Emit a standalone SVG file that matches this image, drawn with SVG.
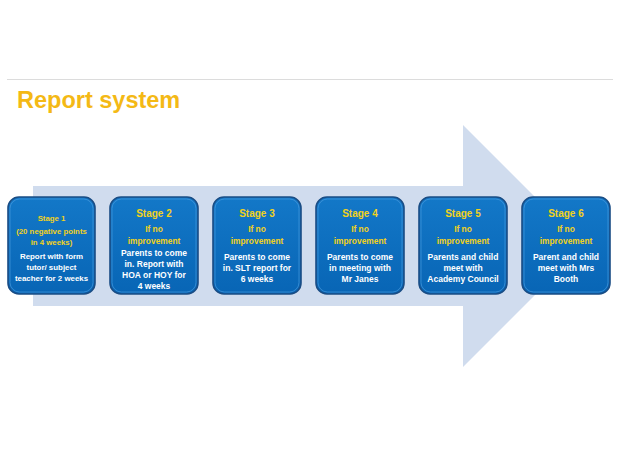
<svg xmlns="http://www.w3.org/2000/svg" width="620" height="465" viewBox="0 0 620 465">
<defs>
<linearGradient id="bg" x1="0" y1="0" x2="0" y2="1">
<stop offset="0" stop-color="#1378c8"/>
<stop offset="1" stop-color="#0865b5"/>
</linearGradient>
<style>
.box{fill:url(#bg);stroke:#1a4d85;stroke-width:1.6}
.hl{fill:none;stroke:#4d9ee0;stroke-width:0.8;opacity:0.8}
text{font-family:"Liberation Sans",Arial,sans-serif;font-weight:bold;text-anchor:middle}
.st{fill:#f2d21c;font-size:10px}
.st1{fill:#f2d21c;font-size:7.8px}
.y{fill:#f2d21c;font-size:8.4px}
.w{fill:#ffffff;font-size:8.5px}
.w1{fill:#ffffff;font-size:7.9px}
</style>
</defs>
<rect width="620" height="465" fill="#ffffff"/>
<line x1="7" y1="79.5" x2="613" y2="79.5" stroke="#dcdcdc" stroke-width="1"/>
<text x="17" y="108" style="text-anchor:start;font-size:23.5px;fill:#f4b915">Report system</text>
<g id="connectors">
<polygon points="33,186 463,186 463,125 584,246 463,367 463,306 33,306" fill="#d0dcee"/>
</g>
<g id="stage1">
<rect class="box" x="8" y="197" width="87" height="97" rx="11"/>
<rect class="hl" x="10" y="199" width="83" height="93" rx="9.5"/>
<text class="st1" x="51.5" y="221">Stage 1</text>
<text class="st1" x="51.5" y="233.5">(20 negative points</text>
<text class="st1" x="51.5" y="245">in 4 weeks)</text>
<text class="w1" x="51.5" y="259">Report with form</text>
<text class="w1" x="51.5" y="270">tutor/ subject</text>
<text class="w1" x="51.5" y="281">teacher for 2 weeks</text>
</g>
<g id="stage2">
<rect class="box" x="110" y="197" width="88" height="97" rx="11"/>
<rect class="hl" x="112" y="199" width="84" height="93" rx="9.5"/>
<text class="st" x="154" y="217">Stage 2</text>
<text class="y" x="154" y="232">If no</text>
<text class="y" x="154" y="244">improvement</text>
<text class="w" x="154" y="256">Parents to come</text>
<text class="w" x="154" y="267">in. Report with</text>
<text class="w" x="154" y="278">HOA or HOY for</text>
<text class="w" x="154" y="289">4 weeks</text>
</g>
<g id="stage3">
<rect class="box" x="213" y="197" width="88" height="97" rx="11"/>
<rect class="hl" x="215" y="199" width="84" height="93" rx="9.5"/>
<text class="st" x="257" y="217">Stage 3</text>
<text class="y" x="257" y="232">If no</text>
<text class="y" x="257" y="244">improvement</text>
<text class="w" x="257" y="260">Parents to come</text>
<text class="w" x="257" y="271">in. SLT report for</text>
<text class="w" x="257" y="282">6 weeks</text>
</g>
<g id="stage4">
<rect class="box" x="316" y="197" width="88" height="97" rx="11"/>
<rect class="hl" x="318" y="199" width="84" height="93" rx="9.5"/>
<text class="st" x="360" y="217">Stage 4</text>
<text class="y" x="360" y="232">If no</text>
<text class="y" x="360" y="244">improvement</text>
<text class="w" x="360" y="260">Parents to come</text>
<text class="w" x="360" y="271">in meeting with</text>
<text class="w" x="360" y="282">Mr Janes</text>
</g>
<g id="stage5">
<rect class="box" x="419" y="197" width="88" height="97" rx="11"/>
<rect class="hl" x="421" y="199" width="84" height="93" rx="9.5"/>
<text class="st" x="463" y="217">Stage 5</text>
<text class="y" x="463" y="232">If no</text>
<text class="y" x="463" y="244">improvement</text>
<text class="w" x="463" y="260">Parents and child</text>
<text class="w" x="463" y="271">meet with</text>
<text class="w" x="463" y="282">Academy Council</text>
</g>
<g id="stage6">
<rect class="box" x="522" y="197" width="88" height="97" rx="11"/>
<rect class="hl" x="524" y="199" width="84" height="93" rx="9.5"/>
<text class="st" x="566" y="217">Stage 6</text>
<text class="y" x="566" y="232">If no</text>
<text class="y" x="566" y="244">improvement</text>
<text class="w" x="566" y="260">Parent and child</text>
<text class="w" x="566" y="271">meet with Mrs</text>
<text class="w" x="566" y="282">Booth</text>
</g>
</svg>
